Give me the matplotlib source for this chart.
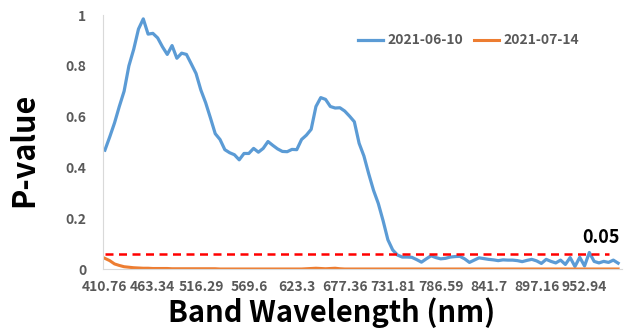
import numpy as np
import matplotlib.pyplot as plt

plt.rcParams['font.family'] = ['Noto Sans CJK KR', 'DejaVu Sans']

# x tick labels (band wavelength, every 20th band)
tick_labels = ["410.76", "463.34", "516.29", "569.6", "623.3", "677.36",
               "731.81", "786.59", "841.7", "897.16", "952.94"]

# p-values sampled every 2nd band
p_0610 = [0.468, 0.52, 0.575, 0.64, 0.70, 0.80, 0.865, 0.945, 0.985, 0.925,
          0.928, 0.91, 0.875, 0.845, 0.88, 0.83, 0.85, 0.845, 0.808, 0.77,
          0.705, 0.655, 0.595, 0.533, 0.51, 0.47, 0.458, 0.45, 0.43, 0.455,
          0.455, 0.475, 0.46, 0.475, 0.502, 0.487, 0.473, 0.463, 0.462, 0.471,
          0.47, 0.51, 0.527, 0.55, 0.64, 0.675, 0.668, 0.64, 0.634, 0.635,
          0.622, 0.602, 0.58, 0.495, 0.445, 0.375, 0.31, 0.258, 0.19, 0.115,
          0.075, 0.055, 0.047, 0.047, 0.046, 0.037, 0.027, 0.04, 0.052, 0.045,
          0.04, 0.042, 0.047, 0.049, 0.05, 0.04, 0.026, 0.035, 0.044, 0.041,
          0.038, 0.036, 0.033, 0.036, 0.035, 0.035, 0.033, 0.029, 0.034, 0.038,
          0.032, 0.022, 0.038, 0.03, 0.024, 0.035, 0.018, 0.045, 0.01, 0.046,
          0.012, 0.065, 0.03, 0.024, 0.03, 0.026, 0.035, 0.023]

p_0714 = [0.042, 0.033, 0.02, 0.014, 0.009, 0.007, 0.005, 0.004, 0.003, 0.003,
          0.002, 0.002, 0.002, 0.002, 0.001, 0.001, 0.001, 0.001, 0.001, 0.001,
          0.001, 0.001, 0.001, 0.001, 0.0, 0.0, 0.0, 0.0, 0.0, 0.0,
          0.0, 0.0, 0.0, 0.0, 0.0, 0.0, 0.0, 0.0, 0.0, 0.0,
          0.0, 0.0, 0.001, 0.002, 0.003, 0.002, 0.001, 0.002, 0.003, 0.001,
          0.0, 0.0, 0.0, 0.0, 0.0, 0.0, 0.0, 0.0, 0.0, 0.0,
          0.0, 0.0, 0.0, 0.0, 0.0, 0.0, 0.0, 0.0, 0.0, 0.0,
          0.0, 0.0, 0.0, 0.0, 0.0, 0.0, 0.0, 0.0, 0.0, 0.0,
          0.0, 0.0, 0.0, 0.0, 0.0, 0.0, 0.0, 0.0, 0.0, 0.0,
          0.0, 0.0, 0.0, 0.0, 0.0, 0.0, 0.0, 0.0, 0.0, 0.0,
          0.0, 0.0, 0.0, 0.0, 0.0, 0.0, 0.0, 0.0]

threshold = 0.06
thr_end = 210

band = np.arange(len(p_0610)) * 2

fig = plt.figure(figsize=(6.28, 3.35), dpi=100)
ax = fig.add_axes([0.164, 0.197, 0.826, 0.758])

ax.plot(band, p_0610, color='#5b9bd5', lw=2.3, label='2021-06-10')
ax.plot(band, p_0714, color='#ed7d31', lw=2.2, label='2021-07-14')
ax.plot([0, thr_end], [threshold, threshold], color='#ff0000', lw=1.8,
        dashes=(3.2, 2.2))
ax.text(206.7, 0.126, "0.05", fontsize=13, fontweight='bold',
        ha='center', va='center', color='black')

ax.set_xlim(-0.8, 215.5)
ax.set_ylim(0, 1.0)
ax.set_xticks(np.arange(len(tick_labels)) * 20)
ax.set_xticklabels(tick_labels)
ax.set_yticks([0, 0.2, 0.4, 0.6, 0.8, 1])
ax.set_yticklabels(["0", "0.2", "0.4", "0.6", "0.8", "1"])
ax.tick_params(length=0, labelsize=10, labelcolor='#595959')
ax.tick_params(axis='x', pad=8)
ax.tick_params(axis='y', pad=12)
for lab in ax.get_xticklabels() + ax.get_yticklabels():
    lab.set_fontweight('bold')

for s in ['top', 'right']:
    ax.spines[s].set_visible(False)
ax.spines['left'].set_color('#d9d9d9')
ax.spines['bottom'].set_color('#d9d9d9')

ax.set_xlabel("Band Wavelength (nm)", fontsize=21, fontweight='bold')
ax.set_ylabel("P-value", fontsize=22, fontweight='bold')
ax.xaxis.set_label_coords(0.44, -0.11)
ax.yaxis.set_label_coords(-0.12, 0.47)

ax.legend(loc='center', bbox_to_anchor=(0.705, 0.9), ncol=2, frameon=False,
          handlelength=1.8, handletextpad=0.3, columnspacing=0.8,
          prop={'size': 10, 'weight': 'bold'}, labelcolor='#595959')

fig.savefig("out.png", dpi=100)
